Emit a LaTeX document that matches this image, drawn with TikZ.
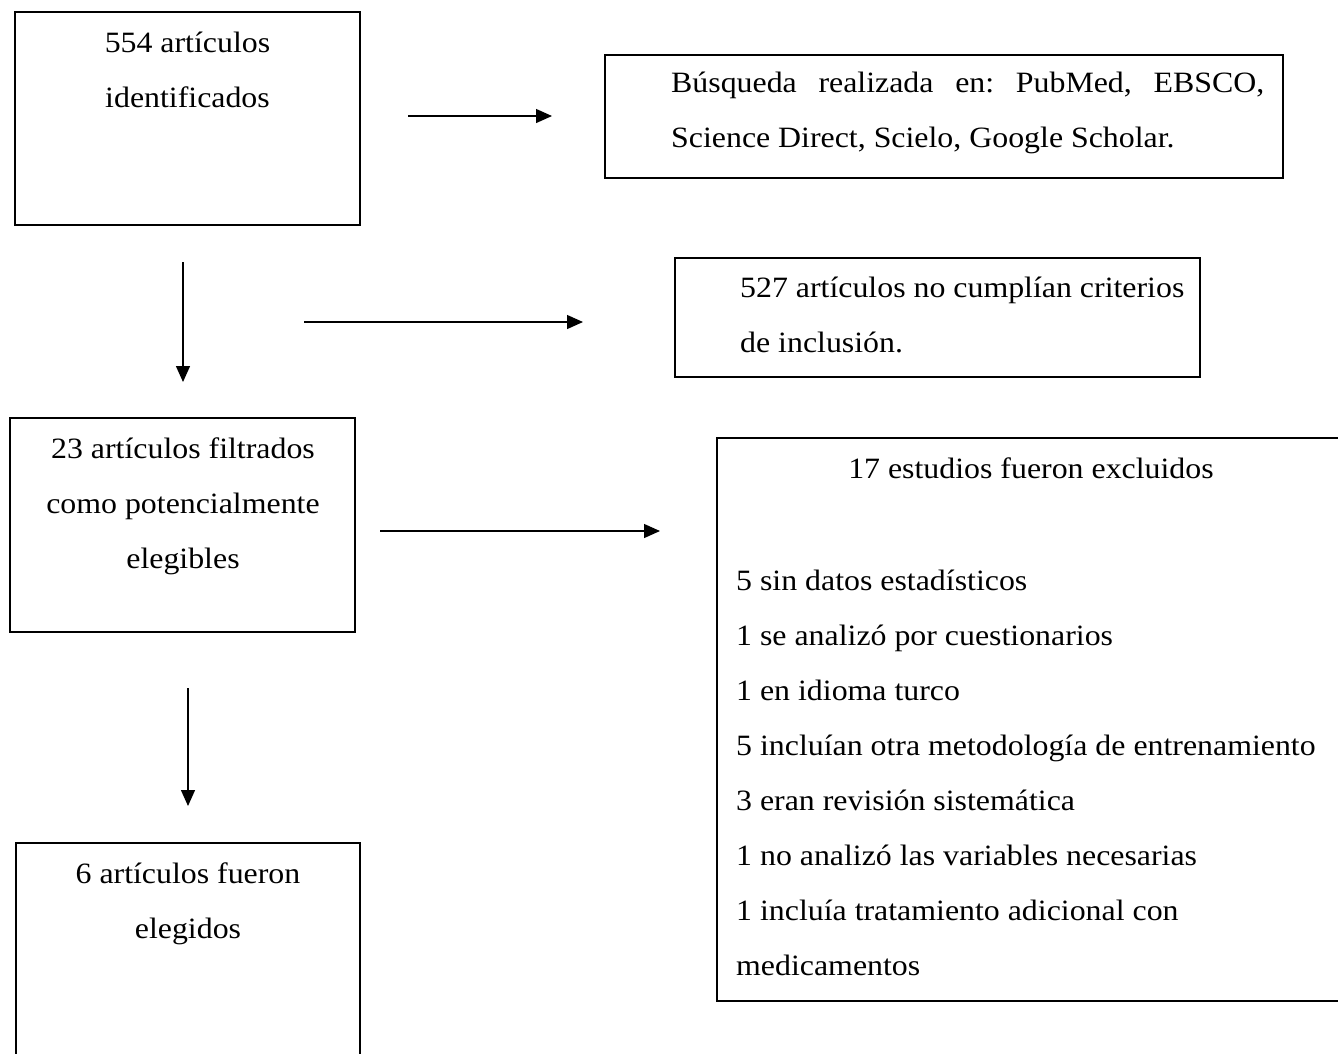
\documentclass[tikz,border=0pt]{standalone}
\usepackage{fontspec}
\setmainfont{Liberation Serif}[FakeStretch=1.08]
\usetikzlibrary{arrows.meta}
\frenchspacing
\begin{document}
\begin{tikzpicture}[x=1pt,y=-1pt,
  box/.style={draw, line width=1.3pt, inner sep=0pt, rectangle},
  txt/.style={font=\fontsize{29.5}{55}\selectfont, inner sep=0pt, anchor=base},
  arr/.style={line width=1.3pt, -{Triangle[length=16pt,width=14pt]}}]
\useasboundingbox (0,0) rectangle (1338,1053);
\clip (0,0) rectangle (1338,1053);
% boxes
\node[box, minimum width=345pt, minimum height=213pt] (a) at (187.5,118.5) {};
\node[box, minimum width=678pt, minimum height=123pt] (b) at (944,116.5) {};
\node[box, minimum width=525pt, minimum height=119pt] (c) at (937.5,317.5) {};
\node[box, minimum width=345pt, minimum height=214pt] (d) at (182.5,525) {};
\node[box, minimum width=643pt, minimum height=563pt] (e) at (1038.5,719.5) {};
\node[box, minimum width=344pt, minimum height=237pt] (f) at (188,961.5) {};
% texts (anchor base = baseline of the last line)
\node[txt, align=center] (ta) at (187.5,107) {554 artículos\\identificados};
\node[txt, align=left, anchor=base west] (tb) at (671,147) {\makebox[593pt][s]{Búsqueda realizada en: PubMed, EBSCO,}\\Science Direct, Scielo, Google Scholar.};
\node[txt, align=left, anchor=base west] (tc) at (740,352) {527 artículos no cumplían criterios\\de inclusión.};
\node[txt, align=center] (td) at (183,568) {23 artículos filtrados\\como potencialmente\\elegibles};
\node[txt] (te) at (1031,478) {17 estudios fueron excluidos};
\node[txt, align=left, anchor=base west] (tl) at (736,975) {5 sin datos estadísticos\\1 se analizó por cuestionarios\\1 en idioma turco\\5 incluían otra metodología de entrenamiento\\3 eran revisión sistemática\\1 no analizó las variables necesarias\\1 incluía tratamiento adicional con\\medicamentos};
\node[txt, align=center] (tf) at (188,938) {6 artículos fueron\\elegidos};
% arrows
\coordinate (p1) at (408,116); \coordinate (q1) at (552,116);
\coordinate (p2) at (183,262); \coordinate (q2) at (183,382);
\coordinate (p3) at (304,322); \coordinate (q3) at (583,322);
\coordinate (p4) at (380,531); \coordinate (q4) at (660,531);
\coordinate (p5) at (188,688); \coordinate (q5) at (188,806);
\draw[arr] (p1) -- (q1);
\draw[arr] (p2) -- (q2);
\draw[arr] (p3) -- (q3);
\draw[arr] (p4) -- (q4);
\draw[arr] (p5) -- (q5);
\end{tikzpicture}
\end{document}
